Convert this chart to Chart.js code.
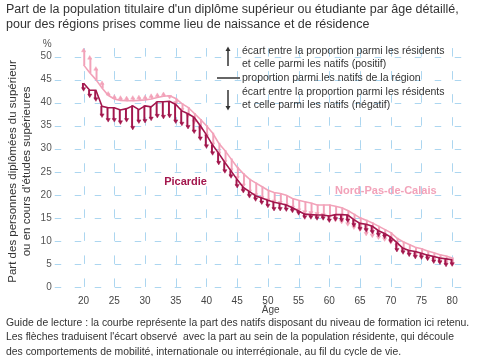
<!DOCTYPE html>
<html><head><meta charset="utf-8">
<script src="https://cdn.jsdelivr.net/npm/chart.js@4/dist/chart.umd.min.js"></script>
<style>html,body{margin:0;padding:0;background:#fff;}#wrap{width:480px;height:356px;position:relative;}</style>
</head><body><div id="wrap"><canvas id="c" width="480" height="356"></canvas></div>
<script>
// ---- data ----
const ages = [20,21,22,23,24,25,26,27,28,29,30,31,32,33,34,35,36,37,38,39,40,41,42,43,44,45,46,47,48,49,50,51,52,53,54,55,56,57,58,59,60,61,62,63,64,65,66,67,68,69,70,71,72,73,74,75,76,77,78,79,80];
const picardieNatifs = [44.2,42.7,42.7,39.2,38.9,38.9,38.4,38.7,39.3,38.5,39.3,39.1,40.2,40.2,40.3,39.6,38.2,37.6,36.8,35.0,33.0,30.8,29.0,27.0,25.2,23.3,21.6,20.7,19.8,19.3,18.8,18.4,18.1,17.8,17.2,16.5,15.8,15.7,15.6,15.6,15.4,15.7,15.7,15.6,14.6,13.8,13.6,13.2,12.2,11.6,10.8,9.6,8.4,7.9,7.7,7.3,6.9,6.6,6.3,6.1,5.9];
const picardieResidents = [43.0,41.6,40.8,37.3,36.3,36.3,35.8,36.3,34.6,36.0,36.1,36.6,37.2,37.0,37.2,36.0,35.5,34.8,33.8,32.3,30.6,29.1,27.0,25.2,24.1,22.0,20.9,19.8,19.1,18.4,17.7,17.0,17.0,16.9,16.6,16.1,15.2,15.2,15.0,15.0,14.5,14.8,14.6,14.5,13.5,12.7,12.4,12.0,11.4,11.0,10.0,8.1,7.6,7.1,6.6,6.5,6.2,5.6,5.4,4.9,5.0];
const npdcNatifs = [48.2,46.5,45.0,43.2,41.6,40.8,40.5,40.4,40.4,40.5,40.6,40.8,41.1,41.4,41.5,40.9,39.8,39.0,37.7,36.4,35.0,33.4,31.2,29.6,27.8,26.0,24.6,23.4,22.6,21.8,21.0,20.5,20.3,19.9,19.2,18.8,18.5,18.2,17.8,17.8,17.8,17.5,17.2,16.6,15.8,15.0,14.5,13.9,13.2,12.5,11.8,10.6,9.8,9.2,8.6,8.3,7.8,7.4,7.0,6.7,6.3];
const npdcResidents = [51.3,49.7,47.3,44.2,41.9,41.2,41.0,40.9,41.0,41.1,41.1,41.4,41.6,41.8,41.3,40.0,38.5,37.3,35.9,34.4,32.8,31.0,29.0,27.2,25.4,23.7,22.1,20.8,20.0,19.4,18.9,18.6,18.3,17.8,17.3,16.7,16.3,16.1,15.9,15.7,15.2,14.6,14.2,13.7,13.0,12.5,11.6,11.2,10.8,10.4,9.8,9.0,8.3,7.6,7.0,6.9,6.5,6.0,5.6,5.4,5.0];
const xTickValues = [20,25,30,35,40,45,50,55,60,65,70,75,80];
const yTickValues = [0,5,10,15,20,25,30,35,40,45,50];
const regionNames = ['Picardie','Nord-Pas-de-Calais'];
const titleLines = ["Part de la population titulaire d'un diplôme supérieur ou étudiante par âge détaillé,","pour des régions prises comme lieu de naissance et de résidence"];
const yTitleLines = ["Part des personnes diplômées du supérieur","ou en cours d'études supérieures"];
const footerLines = ["Guide de lecture : la courbe représente la part des natifs disposant du niveau de formation ici retenu.","Les flèches traduisent l'écart observé  avec la part au sein de la population résidente, qui découle","des comportements de mobilité, internationale ou interrégionale, au fil du cycle de vie."];
const legendLines = ["écart entre la proportion parmi les résidents","et celle parmi les natifs (positif)","proportion parmi les natifs de la région","écart entre la proportion parmi les résidents","et celle parmi les natifs (négatif)"];

// ---- styles ----
const DARK = '#a3174d';
const PINK = '#f2a2b9';
const GRID = '#acd6f0';
const FONT = "'Liberation Sans', Arial, sans-serif";

function stems(nat, res){ return ages.map((a,i)=>({x:a, y:[nat[i], res[i]]})); }
function pts(v){ return ages.map((a,i)=>({x:a, y:v[i]})); }
function headRot(nat,res){ return ctx => (res[ctx.dataIndex] < nat[ctx.dataIndex] ? 180 : 0); }

const dashedGrid = {
  id:'dashedGrid',
  beforeDatasetsDraw(chart){
    const {ctx, chartArea:a, scales:{x,y}} = chart;
    ctx.save();
    ctx.strokeStyle = GRID; ctx.lineWidth = 1;
    ctx.setLineDash([6.5,13.5]);
    y.ticks.forEach(t=>{
      if (t.value > 51) return;
      const py = Math.round(y.getPixelForValue(t.value)) + 0.5;
      ctx.beginPath(); ctx.moveTo(a.left, py); ctx.lineTo(a.right, py); ctx.stroke();
    });
    const step = y.getPixelForValue(0) - y.getPixelForValue(5);
    ctx.setLineDash([8.5, step-8.5]);
    x.ticks.forEach(t=>{
      const px = Math.round(x.getPixelForValue(t.value)) + 0.5;
      ctx.beginPath(); ctx.moveTo(px, y.getPixelForValue(0)); ctx.lineTo(px, a.top); ctx.stroke();
    });
    ctx.restore();
  }
};

const annot = {
  id:'annot',
  afterDatasetsDraw(chart){
    const {ctx, scales:{x,y}} = chart;
    ctx.save();
    ctx.font = "bold 11px " + FONT;
    ctx.textAlign = 'center'; ctx.textBaseline = 'middle';
    ctx.fillStyle = DARK;
    ctx.fillText(regionNames[0], x.getPixelForValue(36.6), y.getPixelForValue(22.8));
    ctx.fillStyle = PINK;
    ctx.fillText(regionNames[1], x.getPixelForValue(69.2), y.getPixelForValue(20.9));
    // legend
    ctx.strokeStyle = '#333'; ctx.fillStyle = '#333'; ctx.lineWidth = 1.5;
    const ax = 228;
    ctx.beginPath(); ctx.moveTo(ax, 66); ctx.lineTo(ax, 50); ctx.stroke();
    ctx.beginPath(); ctx.moveTo(ax-2.5, 51); ctx.lineTo(ax+2.5, 51); ctx.lineTo(ax, 46.5); ctx.closePath(); ctx.fill();
    ctx.beginPath(); ctx.moveTo(ax, 90); ctx.lineTo(ax, 107); ctx.stroke();
    ctx.beginPath(); ctx.moveTo(ax-2.5, 106); ctx.lineTo(ax+2.5, 106); ctx.lineTo(ax, 110.5); ctx.closePath(); ctx.fill();
    ctx.strokeStyle = '#666'; ctx.lineWidth = 2;
    ctx.beginPath(); ctx.moveTo(217, 78); ctx.lineTo(240, 78); ctx.stroke();
    ctx.font = "10.5px " + FONT; ctx.textAlign='left'; ctx.fillStyle = '#333';
    const ly = [51, 64, 78, 92, 105];
    legendLines.forEach((t,i)=>ctx.fillText(t, 242, ly[i]));
    ctx.restore();
  }
};

new Chart(document.getElementById('c'), {
  data:{
    datasets:[
      {type:'line', label:'Picardie natifs', data:pts(picardieNatifs), borderColor:DARK, borderWidth:1.6, pointRadius:0, tension:0, order:1},
      {type:'line', label:'Picardie résidents', data:pts(picardieResidents), showLine:false, pointStyle:'triangle', pointRadius:2.4, pointBackgroundColor:DARK, pointBorderColor:DARK, pointBorderWidth:0.5, pointRotation:headRot(picardieNatifs,picardieResidents), order:2},
      {type:'bar', label:'Picardie écart', data:stems(picardieNatifs,picardieResidents), backgroundColor:DARK, barThickness:1.3, order:3},
      {type:'line', label:'NPdC natifs', data:pts(npdcNatifs), borderColor:PINK, borderWidth:1.6, pointRadius:0, tension:0, order:4},
      {type:'line', label:'NPdC résidents', data:pts(npdcResidents), showLine:false, pointStyle:'triangle', pointRadius:2.4, pointBackgroundColor:PINK, pointBorderColor:PINK, pointBorderWidth:0.5, pointRotation:headRot(npdcNatifs,npdcResidents), order:5},
      {type:'bar', label:'NPdC écart', data:stems(npdcNatifs,npdcResidents), backgroundColor:PINK, barThickness:1.3, order:6}
    ]
  },
  options:{
    responsive:false, animation:false, devicePixelRatio:1,
    layout:{padding:{left:6,right:10,top:0,bottom:-3}},
    plugins:{
      legend:{display:false}, tooltip:{enabled:false},
      title:{display:true, text:titleLines, align:'start', color:'#333', font:{family:FONT, size:12.5, weight:'normal', lineHeight:1.2}, padding:{top:2,bottom:8}},
      subtitle:{display:true, position:'bottom', text:footerLines, align:'start', color:'#333', font:{family:FONT, size:10.4, lineHeight:1.38}, padding:{top:0,bottom:0}}
    },
    scales:{
      x:{type:'linear', min:15.3, max:82.9, offset:false,
        afterBuildTicks: ax => { ax.ticks = xTickValues.map(v=>({value:v})); },
        ticks:{color:'#444', font:{family:FONT,size:10}, padding:8, maxRotation:0, callback:v=>String(v)},
        grid:{display:false, drawTicks:false},
        border:{display:false},
        title:{display:true, text:'      Âge', color:'#444', font:{family:FONT,size:10}, padding:{top:-11,bottom:0}}
      },
      y:{min:0, max:53.6,
        afterBuildTicks: ax => { ax.ticks = yTickValues.concat([52.7]).map(v=>({value:v})); },
        ticks:{color:'#555', font:{family:FONT,size:10}, padding:3, callback:v=> v>51 ? '%' : String(v)},
        grid:{display:false, drawTicks:false},
        border:{display:false},
        title:{display:true, text:yTitleLines.map(t=>t+'     '), color:'#333', font:{family:FONT,size:11.5, lineHeight:1.2}, padding:{top:0,bottom:4}}
      }
    }
  },
  plugins:[dashedGrid, annot]
});
</script></body></html>
